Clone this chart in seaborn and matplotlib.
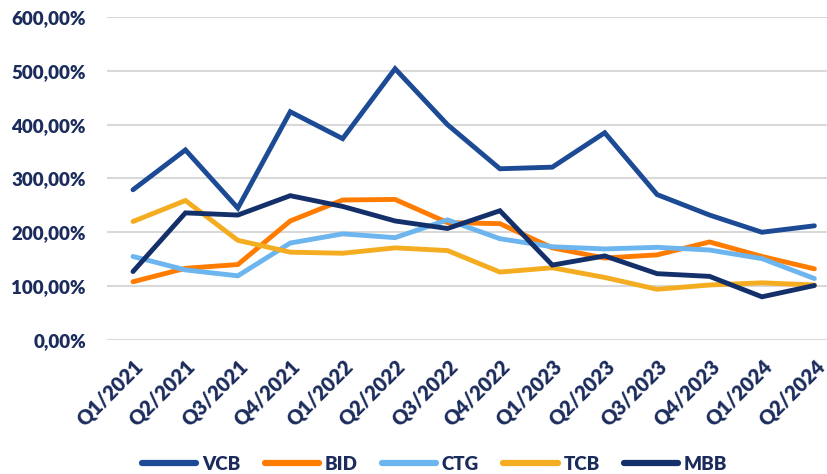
import pandas as pd
import matplotlib.pyplot as plt
import seaborn as sns
from matplotlib.ticker import FuncFormatter

# quarters and series (in %)
quarters = ["Q1/2021", "Q2/2021", "Q3/2021", "Q4/2021", "Q1/2022", "Q2/2022", "Q3/2022",
            "Q4/2022", "Q1/2023", "Q2/2023", "Q3/2023", "Q4/2023", "Q1/2024", "Q2/2024"]
vcb = [279, 353, 245, 424, 374, 504, 400, 318, 321, 385, 270, 232, 200, 212]
bid = [108, 133, 140, 221, 260, 261, 218, 216, 171, 152, 158, 182, 155, 132]
ctg = [155, 130, 119, 180, 197, 190, 223, 188, 173, 169, 172, 167, 151, 114]
tcb = [220, 259, 185, 163, 161, 171, 166, 126, 134, 116, 94, 102, 106, 102]
mbb = [127, 236, 232, 268, 248, 221, 207, 240, 139, 156, 123, 118, 80, 101]

banks = ["VCB", "BID", "CTG", "TCB", "MBB"]
colors = ["#1C4A94", "#FF7C00", "#6CB5EE", "#F4AC20", "#13306A"]
text_color = "#1B2C5C"

rows = []
for name, vals in zip(banks, [vcb, bid, ctg, tcb, mbb]):
    for i, v in enumerate(vals):
        rows.append({"idx": i, "value": v, "bank": name})
df = pd.DataFrame(rows)

sns.set_theme(style="white")
plt.rcParams['font.family'] = ['Lato', 'DejaVu Sans']

fig = plt.figure(figsize=(8.28, 4.74), dpi=100)
ax = fig.add_axes([0.129, 0.283, 0.871, 0.681])

sns.lineplot(data=df, x="idx", y="value", hue="bank", hue_order=banks,
             palette=colors, linewidth=3.5, ax=ax, legend=False,
             solid_capstyle="round", solid_joinstyle="miter")

ax.set_ylim(0, 600)
ax.set_xlim(-0.5, 13.26)
ax.set_yticks(range(0, 601, 100))
ax.yaxis.set_major_formatter(FuncFormatter(lambda v, p: f"{v:.2f}".replace(".", ",") + "%"))
ax.set_xticks(range(len(quarters)))
ax.set_xticklabels(quarters, rotation=45, ha="right", rotation_mode="anchor")
ax.grid(axis="y", color="#D9D9D9", linewidth=1.5)
ax.set_axisbelow(True)
for s in ax.spines.values():
    s.set_visible(False)
ax.tick_params(axis="y", length=0, pad=15, labelsize=13.5, labelcolor=text_color)
ax.tick_params(axis="x", length=0, pad=12, labelsize=14.5, labelcolor=text_color)
for lab in ax.get_xticklabels() + ax.get_yticklabels():
    lab.set_fontweight("heavy")
ax.set_xlabel("")
ax.set_ylabel("")

handles = [plt.Line2D([0], [0], color=c, linewidth=4.5, solid_capstyle="round") for c in colors]
leg = fig.legend(handles, banks, loc="center", bbox_to_anchor=(0.525, 0.02), ncol=5,
                 frameon=False, handlelength=2.9, columnspacing=1.3, handletextpad=0.3,
                 prop={"size": 13.5, "weight": "heavy"})
for t in leg.get_texts():
    t.set_color(text_color)

fig.savefig("out.png", dpi=100)
